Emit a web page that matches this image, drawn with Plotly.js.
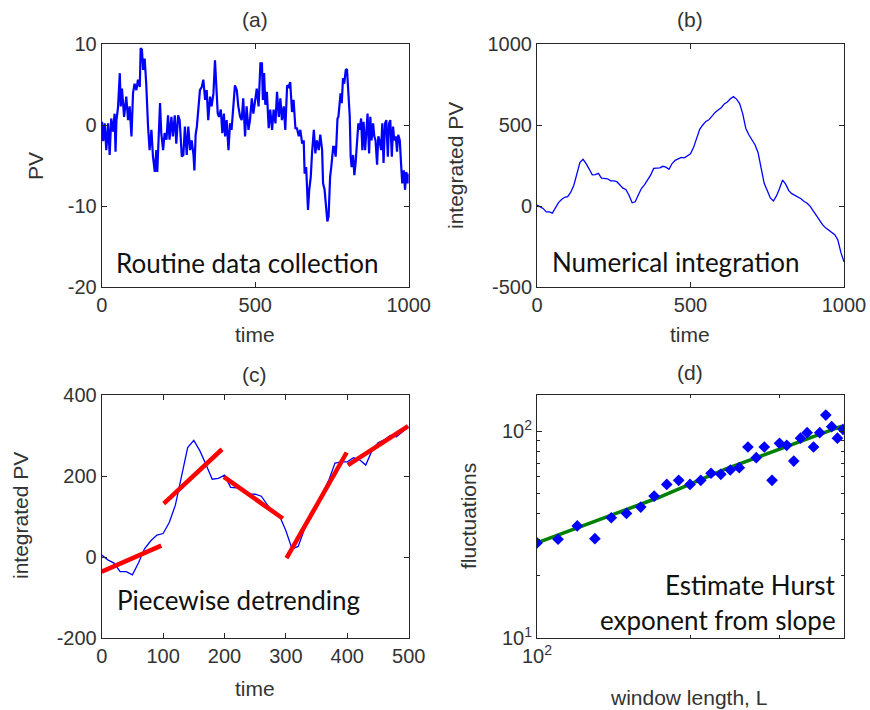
<!DOCTYPE html>
<html>
<head>
<meta charset="utf-8">
<script src="https://cdn.plot.ly/plotly-3.0.1.min.js"></script>
<style>html,body{margin:0;padding:0;background:#fff;}#chart{width:870px;height:710px;}</style>
</head>
<body>
<div id="chart"></div>
<script>
// (a) raw process variable
const pvTime = [1,5,10,15,21,26,31,37,42,45,48,53,59,62,66,73,80,86,91,97,102,107,113,118,124,127,131,135,140,145,151,156,162,167,173,178,181,186,190,194,200,205,211,216,221,227,232,238,243,249,254,
261,266,271,277,282,288,293,299,302,306,310,315,320,326,331,337,342,347,353,358,364,369,373,378,382,388,393,398,402,407,413,418,423,429,434,440,445,451,456,461,467,472,478,483,489,494,499,505,
511,517,522,525,529,533,538,544,549,555,560,566,571,577,582,587,593,598,604,609,614,620,625,631,636,642,647,653,658,661,666,669,672,676,681,685,691,696,701,707,712,718,721,726,731,735,739,744,748,754,
757,762,764,768,771,775,778,782,786,790,795,799,803,808,811,814,819,823,827,832,836,840,845,849,853,858,862,866,871,875,879,884,888,892,897,901,905,910,914,918,923,927,932,936,940,945,949,953,958,962,966,971,975,979,984,988,992,997,1000];
const pvValue = [0.4,-2.0,0.2,-3.1,0.2,-3.7,0.8,-0.8,1.4,-3.3,0.6,2.1,6.4,2.3,4.5,1.0,3.5,0.6,2.3,-1.4,3.9,5.1,4.3,5.6,4.7,9.5,9.3,6.8,8.2,5.1,-0.2,-3.1,-0.6,-3.9,-5.8,-3.1,-5.8,0.6,2.7,-1.0,-3.1,-1.0,-1.8,1.2,-1.8,1.0,-1.4,1.2,-2.3,1.2,0.6,
-3.9,-3.7,-0.2,-3.7,-0.2,-3.1,-1.9,-3.7,-5.6,-1.2,-0.2,2.7,4.3,4.7,5.6,3.1,4.3,0.6,3.5,2.3,3.9,8.0,4.3,1.4,1.0,1.9,-1.0,1.4,-1.4,0.6,-3.1,0.2,-0.6,1.9,4.9,4.3,2.3,1.0,0.6,3.3,-1.4,2.3,-0.6,0.6,3.3,1.4,2.7,4.5,
2.3,7.6,7.6,3.1,6.4,2.5,4.1,-0.4,1.9,-0.6,1.9,0.2,4.1,1.0,3.3,0.6,2.3,-0.6,4.9,4.7,5.3,1.6,3.1,-0.4,-0.4,-1.4,-0.6,-2.3,-1.9,-6.0,-5.2,-7.6,-10.5,-8.0,-6.4,-3.5,-0.6,-3.5,-1.9,-3.1,-1.2,-3.1,-7.2,-8.0,-10.5,-11.9,-11.3,-6.4,-5.1,-2.7,
-2.7,-3.9,-2.7,0.8,1.0,2.7,3.9,2.7,5.8,5.1,6.8,6.9,3.9,1.0,-3.9,-5.2,-3.7,-6.2,-4.7,-1.0,0.2,-0.6,0.8,-3.1,0.4,-3.1,-0.6,1.4,-3.5,1.0,-1.9,0.2,-1.4,-1.9,-4.9,-1.4,-1.9,-3.1,0.2,-4.7,0.2,0.6,-3.9,0.2,0.6,-3.9,-0.2,-1.9,-1.4,-3.3,-1.2,-1.9,-4.7,-7.2,-5.6,-8.0,-5.8,-7.2,-6.0];

// (b),(c) integrated PV
const intTime = [0,10,20,30,40,50,60,70,80,90,100,110,120,130,140,150,160,170,180,190,200,210,220,230,240,250,260,270,280,290,300,310,320,330,340,350,360,370,380,390,400,410,420,430,440,450,460,470,480,490,500,
510,520,530,540,550,560,570,580,590,600,610,620,630,640,650,660,670,680,690,700,710,720,730,740,750,760,770,780,790,800,810,820,830,840,850,860,870,880,890,900,910,920,930,940,950,960,970,980,990,1000];
const intPV = [5,-7,-15,-36,-36,-44,-14,21,40,54,58,85,128,198,270,288,262,228,192,194,202,172,171,168,155,155,150,128,110,100,65,20,26,68,108,130,160,190,232,235,235,245,240,227,262,282,289,300,297,309,322,
362,412,473,500,522,532,555,578,592,607,630,642,662,675,660,632,570,480,440,405,378,330,230,140,95,50,31,62,108,160,135,95,76,65,58,45,28,17,-2,-31,-59,-88,-115,-135,-150,-162,-177,-210,-288,-345];

// (c) piecewise linear trends
const segStartT = [0,101,199,301,401];
const segEndT   = [97,196,295,399,499];
const segStartV = [-36,132,198,-3,227];
const segEndV   = [28,266,95,258,323];

// (d) fluctuation vs window length
const windowL = [100,110,120,130,140,150,160,170,180,190,200,210,220,230,240,250,260,270,280,290,300,310,320,330,340,350,360,370,380,390,400];
const fluct = [28.8,30.0,34.8,30.2,38.1,40.0,42.9,48.5,55.2,57.8,55.2,57.8,62.5,61.8,64.8,66.5,83.7,74.3,83.7,57.8,87.2,85.3,71.6,92.3,98.2,83.7,98.2,119.4,105,92.3,101.9];
const fitL = [100,128,173,234,317,398];
const fitF = [28.8,36.1,47.6,65.3,86.3,105.7];

// tick labels
const tickA_x = [0, 500, 1000], tickA_y = [-20, -10, 0, 10], tickA_yText = ['-20', '-10', '0', '10'];
const tickB_y = [-500, 0, 500, 1000], tickB_yText = ['-500', '0', '500', '1000'];
const tickC_x = [0, 100, 200, 300, 400, 500], tickC_y = [-200, 0, 200, 400], tickC_yText = ['-200', '0', '200', '400'];
const tickD_x = [100], tickD_xText = ['10<sup>2</sup>'], tickD_xMinor = [200, 300, 400];
const tickD_y = [10, 100], tickD_yText = ['10<sup>1</sup>', '10<sup>2</sup>'], tickD_yMinor = [20, 30, 40, 50, 60, 70, 80, 90];

const W = 870, H = 710;
const px = x => x / W;
const py = y => 1 - y / H;

const halfIdx = intTime.findIndex(t => t === 500);
const traces = [
  {x: pvTime, y: pvValue, xaxis: 'x', yaxis: 'y', type: 'scatter', mode: 'lines',
   line: {color: '#0000ff', width: 2.2}},
  {x: intTime, y: intPV, xaxis: 'x2', yaxis: 'y2', type: 'scatter', mode: 'lines',
   line: {color: '#0000ff', width: 1.3}},
  {x: intTime.slice(0, halfIdx + 1), y: intPV.slice(0, halfIdx + 1), xaxis: 'x3', yaxis: 'y3', type: 'scatter', mode: 'lines',
   line: {color: '#0000ff', width: 1.3}}
];
for (let i = 0; i < segStartT.length; i++) {
  traces.push({x: [segStartT[i], segEndT[i]], y: [segStartV[i], segEndV[i]], xaxis: 'x3', yaxis: 'y3',
    type: 'scatter', mode: 'lines', line: {color: '#ff0000', width: 4.5}});
}
traces.push({x: fitL, y: fitF, xaxis: 'x4', yaxis: 'y4', type: 'scatter', mode: 'lines',
  line: {color: '#008000', width: 3.5}});
traces.push({x: windowL, y: fluct, xaxis: 'x4', yaxis: 'y4', type: 'scatter', mode: 'markers',
  marker: {color: '#0000ff', symbol: 'diamond', size: 9}});

const tickFont = {family: "'Liberation Sans', Arimo, Arial, sans-serif", size: 20, color: '#333'};
function ax(extra) {
  return Object.assign({
    showline: true, mirror: 'ticks', linecolor: '#262626', linewidth: 1,
    ticks: 'inside', ticklen: 5, tickcolor: '#262626', tickwidth: 1,
    showgrid: false, zeroline: false, tickfont: tickFont, automargin: false,
    tickmode: 'array', fixedrange: true
  }, extra);
}
const dA = [px(101.7), px(408.7)], dB = [px(537), px(844)];
const dTop = [py(287), py(44)], dBot = [py(638), py(395)];
const minorStyle = vals => ({tickmode: 'array', tickvals: vals, ticks: 'inside', ticklen: 3, tickcolor: '#262626', showgrid: false});

const layout = {
  width: W, height: H, margin: {l: 0, r: 0, t: 0, b: 0},
  paper_bgcolor: '#fff', plot_bgcolor: '#fff', showlegend: false,
  xaxis:  ax({domain: dA, anchor: 'y', range: [0, 1000], tickvals: tickA_x}),
  yaxis:  ax({domain: dTop, anchor: 'x', range: [-20, 10], tickvals: tickA_y, ticktext: tickA_yText}),
  xaxis2: ax({domain: dB, anchor: 'y2', range: [0, 1000], tickvals: tickA_x}),
  yaxis2: ax({domain: dTop, anchor: 'x2', range: [-500, 1000], tickvals: tickB_y, ticktext: tickB_yText}),
  xaxis3: ax({domain: dA, anchor: 'y3', range: [0, 500], tickvals: tickC_x}),
  yaxis3: ax({domain: dBot, anchor: 'x3', range: [-200, 400], tickvals: tickC_y, ticktext: tickC_yText}),
  xaxis4: ax({domain: dB, anchor: 'y4', type: 'log', range: [2, 2.604],
    tickvals: tickD_x, ticktext: tickD_xText, minor: minorStyle(tickD_xMinor)}),
  yaxis4: ax({domain: dBot, anchor: 'x4', type: 'log', range: [1, 2.174],
    tickvals: tickD_y, ticktext: tickD_yText, minor: minorStyle(tickD_yMinor)}),
  annotations: []
};

const labFont = {family: "'Liberation Sans', Arimo, Arial, sans-serif", size: 21, color: '#333'};
const boxFont = {family: 'Lato, sans-serif', size: 26, color: '#111'};
function ann(text, x, y, opts) {
  layout.annotations.push(Object.assign({text: text, x: px(x), y: py(y), xref: 'paper', yref: 'paper',
    showarrow: false, font: labFont, xanchor: 'center', yanchor: 'middle'}, opts || {}));
}
// subplot titles
ann('(a)', 255, 20); ann('(b)', 690, 20); ann('(c)', 255, 374); ann('(d)', 690, 372);
// axis titles
ann('time', 255, 334); ann('time', 690, 334); ann('time', 255, 688);
ann('window length, L', 688, 697);
ann('PV', 35, 166, {textangle: -90});
ann('integrated PV', 455, 166, {textangle: -90});
ann('integrated PV', 20, 516, {textangle: -90});
ann('fluctuations', 468, 516, {textangle: -90});
// in-plot captions
ann('Routine data collection', 114, 263, {font: boxFont, xanchor: 'left'});
ann('Numerical integration', 550, 262, {font: boxFont, xanchor: 'left'});
ann('Piecewise detrending', 115, 600, {font: boxFont, xanchor: 'left'});
ann('Estimate Hurst', 838, 585, {font: boxFont, xanchor: 'right'});
ann('exponent from slope', 838, 620, {font: boxFont, xanchor: 'right'});

Plotly.newPlot('chart', traces, layout, {displayModeBar: false, staticPlot: true});
</script>
</body>
</html>
